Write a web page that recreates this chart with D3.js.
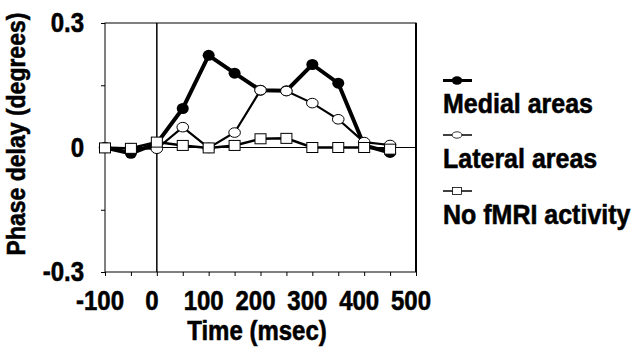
<!DOCTYPE html>
<html>
<head>
<meta charset="utf-8">
<script src="https://cdn.jsdelivr.net/npm/d3@7"></script>
<style>
  html, body { margin: 0; padding: 0; background: #fff; }
  svg { display: block; font-family: "Liberation Sans", Arial, sans-serif; font-weight: bold; }
  text { fill: #000; stroke: #000; stroke-width: 0.5px; }
</style>
</head>
<body>
<svg id="chart" width="642" height="354"></svg>
<script>
"use strict";

// time points (msec)
const times = [-100, -50, 0, 50, 100, 150, 200, 250, 300, 350, 400, 450];
// phase delay (degrees)
const medial = [0.0, -0.014, 0.01, 0.094, 0.222, 0.179, 0.138, 0.137, 0.2, 0.155, 0.005, -0.012];
const lateral = [0.0, -0.002, -0.003, 0.049, -0.001, 0.036, 0.138, 0.136, 0.107, 0.068, 0.013, 0.006];
const noActivity = [-0.001, -0.002, 0.013, 0.005, -0.001, 0.005, 0.021, 0.022, 0.0, 0.0, 0.0, -0.004];

const seriesNames = ["Medial areas", "Lateral areas", "No fMRI activity"];
const xTickLabels = [-100, 0, 100, 200, 300, 400, 500];
const xTickMarks = d3.range(-100, 501, 50);
const yTickLabels = [0.3, 0, -0.3];
const yTickMarks = [0.3, 0.15, 0, -0.15, -0.3];

const plot = { left: 105, right: 416, top: 23, bottom: 272 };
const stretch = 1.12; // glyphs in the source are a bit taller than wide

const svg = d3.select("#chart");

const x = d3.scaleLinear().domain([-100, 500]).range([plot.left, plot.right]);
const y = d3.scaleLinear().domain([-0.3, 0.3]).range([plot.bottom, plot.top]);

// frame
svg.append("rect")
    .attr("x", plot.left).attr("y", plot.top)
    .attr("width", plot.right - plot.left).attr("height", plot.bottom - plot.top)
    .attr("fill", "none").attr("stroke", "#000").attr("stroke-width", 1);
svg.append("line")
    .attr("x1", plot.right).attr("x2", plot.right)
    .attr("y1", plot.top).attr("y2", plot.bottom)
    .attr("stroke", "#000").attr("stroke-width", 2);

// zero lines
svg.append("line")
    .attr("x1", plot.left).attr("x2", plot.right)
    .attr("y1", y(0)).attr("y2", y(0))
    .attr("stroke", "#000").attr("stroke-width", 1);
svg.append("line")
    .attr("x1", x(0)).attr("x2", x(0))
    .attr("y1", plot.top).attr("y2", plot.bottom)
    .attr("stroke", "#000").attr("stroke-width", 1.5);

// axis ticks
svg.append("g")
    .attr("transform", `translate(0,${plot.bottom})`)
    .call(d3.axisBottom(x).tickValues(xTickMarks).tickSize(4).tickFormat(""))
    .call(g => g.select(".domain").remove());
svg.append("g")
    .attr("transform", `translate(${plot.left},0)`)
    .call(d3.axisLeft(y).tickValues(yTickMarks).tickSize(4).tickFormat(""))
    .call(g => g.select(".domain").remove());

// tick labels
svg.append("g").selectAll("text")
    .data(xTickLabels)
    .join("text")
    .attr("transform", d => `translate(${x(d) - 5},310) scale(1,${stretch})`)
    .attr("text-anchor", "middle")
    .attr("font-size", 24)
    .text(d => d);

svg.append("g").selectAll("text")
    .data(yTickLabels)
    .join("text")
    .attr("transform", d => `translate(84,${y(d) + 9}) scale(1,${stretch})`)
    .attr("text-anchor", "end")
    .attr("font-size", 24)
    .text(d => d);

// axis titles
svg.append("text")
    .attr("transform", `translate(257,340) scale(1,${stretch})`)
    .attr("text-anchor", "middle")
    .attr("font-size", 24)
    .text("Time (msec)");
svg.append("text")
    .attr("transform", `translate(25,134) rotate(-90) scale(1,${stretch})`)
    .attr("text-anchor", "middle")
    .attr("font-size", 23)
    .text("Phase delay (degrees)");

// series
const line = d3.line().x(d => x(d[0])).y(d => y(d[1]));
const pts = vals => times.map((t, i) => [t, vals[i]]);

// medial
svg.append("path").datum(pts(medial))
    .attr("d", line).attr("fill", "none").attr("stroke", "#000").attr("stroke-width", 4);
svg.append("g").selectAll("ellipse").data(pts(medial)).join("ellipse")
    .attr("cx", d => x(d[0])).attr("cy", d => y(d[1]))
    .attr("rx", 6).attr("ry", 5.5).attr("fill", "#000");

// lateral
svg.append("path").datum(pts(lateral))
    .attr("d", line).attr("fill", "none").attr("stroke", "#000").attr("stroke-width", 2.2);
svg.append("g").selectAll("ellipse").data(pts(lateral)).join("ellipse")
    .attr("cx", d => x(d[0])).attr("cy", d => y(d[1]))
    .attr("rx", 5.8).attr("ry", 4.8)
    .attr("fill", "#fff").attr("stroke", "#000").attr("stroke-width", 1);

// no fMRI activity
svg.append("path").datum(pts(noActivity))
    .attr("d", line).attr("fill", "none").attr("stroke", "#000").attr("stroke-width", 2.5);
svg.append("g").selectAll("rect").data(pts(noActivity)).join("rect")
    .attr("x", d => x(d[0]) - 5.5).attr("y", d => y(d[1]) - 5)
    .attr("width", 11).attr("height", 10)
    .attr("fill", "#fff").attr("stroke", "#000").attr("stroke-width", 1);

// legend
const legendRows = [80.5, 135, 191];
const legend = svg.append("g");
seriesNames.forEach((name, i) => {
    const cy = legendRows[i];
    legend.append("line")
        .attr("x1", 443).attr("x2", 472).attr("y1", cy).attr("y2", cy)
        .attr("stroke", "#000").attr("stroke-width", i === 0 ? 3 : 1.5);
    if (i === 0) {
        legend.append("ellipse").attr("cx", 457).attr("cy", cy)
            .attr("rx", 5.3).attr("ry", 4.2).attr("fill", "#000");
    } else if (i === 1) {
        legend.append("ellipse").attr("cx", 457).attr("cy", cy)
            .attr("rx", 5).attr("ry", 3.2)
            .attr("fill", "#fff").attr("stroke", "#000").attr("stroke-width", 0.8);
    } else {
        legend.append("rect").attr("x", 452.5).attr("y", cy - 3.5)
            .attr("width", 9).attr("height", 7)
            .attr("fill", "#fff").attr("stroke", "#000").attr("stroke-width", 0.8);
    }
    legend.append("text")
        .attr("transform", `translate(443,${cy + 32.5}) scale(1,${stretch})`)
        .attr("font-size", 25)
        .text(name);
});
</script>
</body>
</html>
